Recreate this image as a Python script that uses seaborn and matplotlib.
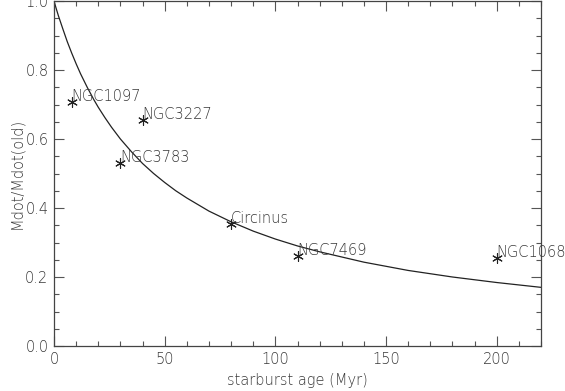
import matplotlib
matplotlib.use("Agg")
import matplotlib.pyplot as plt
from matplotlib.ticker import MultipleLocator
import seaborn as sns
import pandas as pd

# model curve
curve_age = [0, 1, 2, 3, 4, 6, 8, 10, 12, 15, 18, 20, 23, 26, 30, 35, 40, 45, 50, 55, 60,
             70, 80, 90, 100, 110, 120, 140, 160, 180, 200, 220]
curve_ratio = [1.00, 0.978, 0.957, 0.938, 0.919, 0.882, 0.849, 0.818, 0.789, 0.750, 0.714,
               0.692, 0.662, 0.634, 0.600, 0.563, 0.529, 0.500, 0.474, 0.450, 0.429,
               0.391, 0.360, 0.333, 0.310, 0.290, 0.273, 0.243, 0.219, 0.200, 0.184, 0.170]

# galaxies
galaxies = ["NGC1097", "NGC3227", "NGC3783", "Circinus", "NGC7469", "NGC1068"]
gal_age = [8, 40, 30, 80, 110, 200]
gal_ratio = [0.708, 0.655, 0.530, 0.354, 0.261, 0.256]

xticks = [0, 50, 100, 150, 200]
yticks = [0.0, 0.2, 0.4, 0.6, 0.8, 1.0]

sns.set_style("ticks")
plt.rcParams["font.family"] = ["DejaVu Sans"]
plt.rcParams["font.weight"] = "light"

fig = plt.figure(figsize=(5.65, 3.91), dpi=100)
ax = fig.add_axes([54 / 565, 45 / 391, 487 / 565, 345 / 391])

tc = "#383838"
dfc = pd.DataFrame({"age": curve_age, "ratio": curve_ratio})
sns.lineplot(data=dfc, x="age", y="ratio", ax=ax, color="#222222", linewidth=0.9)

dfg = pd.DataFrame({"age": gal_age, "ratio": gal_ratio, "name": galaxies})
sns.scatterplot(data=dfg, x="age", y="ratio", ax=ax, marker=(6, 2, 0), s=50,
                color="#222222", linewidth=0.8, edgecolor="#222222")
for n, a, r in zip(galaxies, gal_age, gal_ratio):
    ax.text(a, r + 0.002, n, ha="left", va="baseline", fontsize=10.5, color=tc,
            fontweight="light")

ax.set_xlim(0, 220)
ax.set_ylim(0, 1.0)
ax.set_xticks(xticks)
ax.set_xticklabels([str(t) for t in xticks])
ax.set_yticks(yticks)
ax.set_yticklabels([f"{t:.1f}" for t in yticks])
ax.xaxis.set_minor_locator(MultipleLocator(10))
ax.yaxis.set_minor_locator(MultipleLocator(0.05))
ax.tick_params(which="both", direction="in", top=True, right=True, colors="#555555",
               labelcolor=tc, labelsize=10.5, width=0.8)
ax.tick_params(which="major", length=7.2, pad=4)
ax.tick_params(which="minor", length=3.6)
for lab in ax.get_xticklabels() + ax.get_yticklabels():
    lab.set_fontweight("light")
for s in ax.spines.values():
    s.set_color("#444444")
    s.set_linewidth(0.9)

ax.set_xlabel("starburst age (Myr)", fontsize=10.5, color=tc, labelpad=5, fontweight="light")
ax.set_ylabel("Mdot/Mdot(old)", fontsize=10.5, color=tc, labelpad=1, fontweight="light")

fig.savefig("out.png", dpi=100)
